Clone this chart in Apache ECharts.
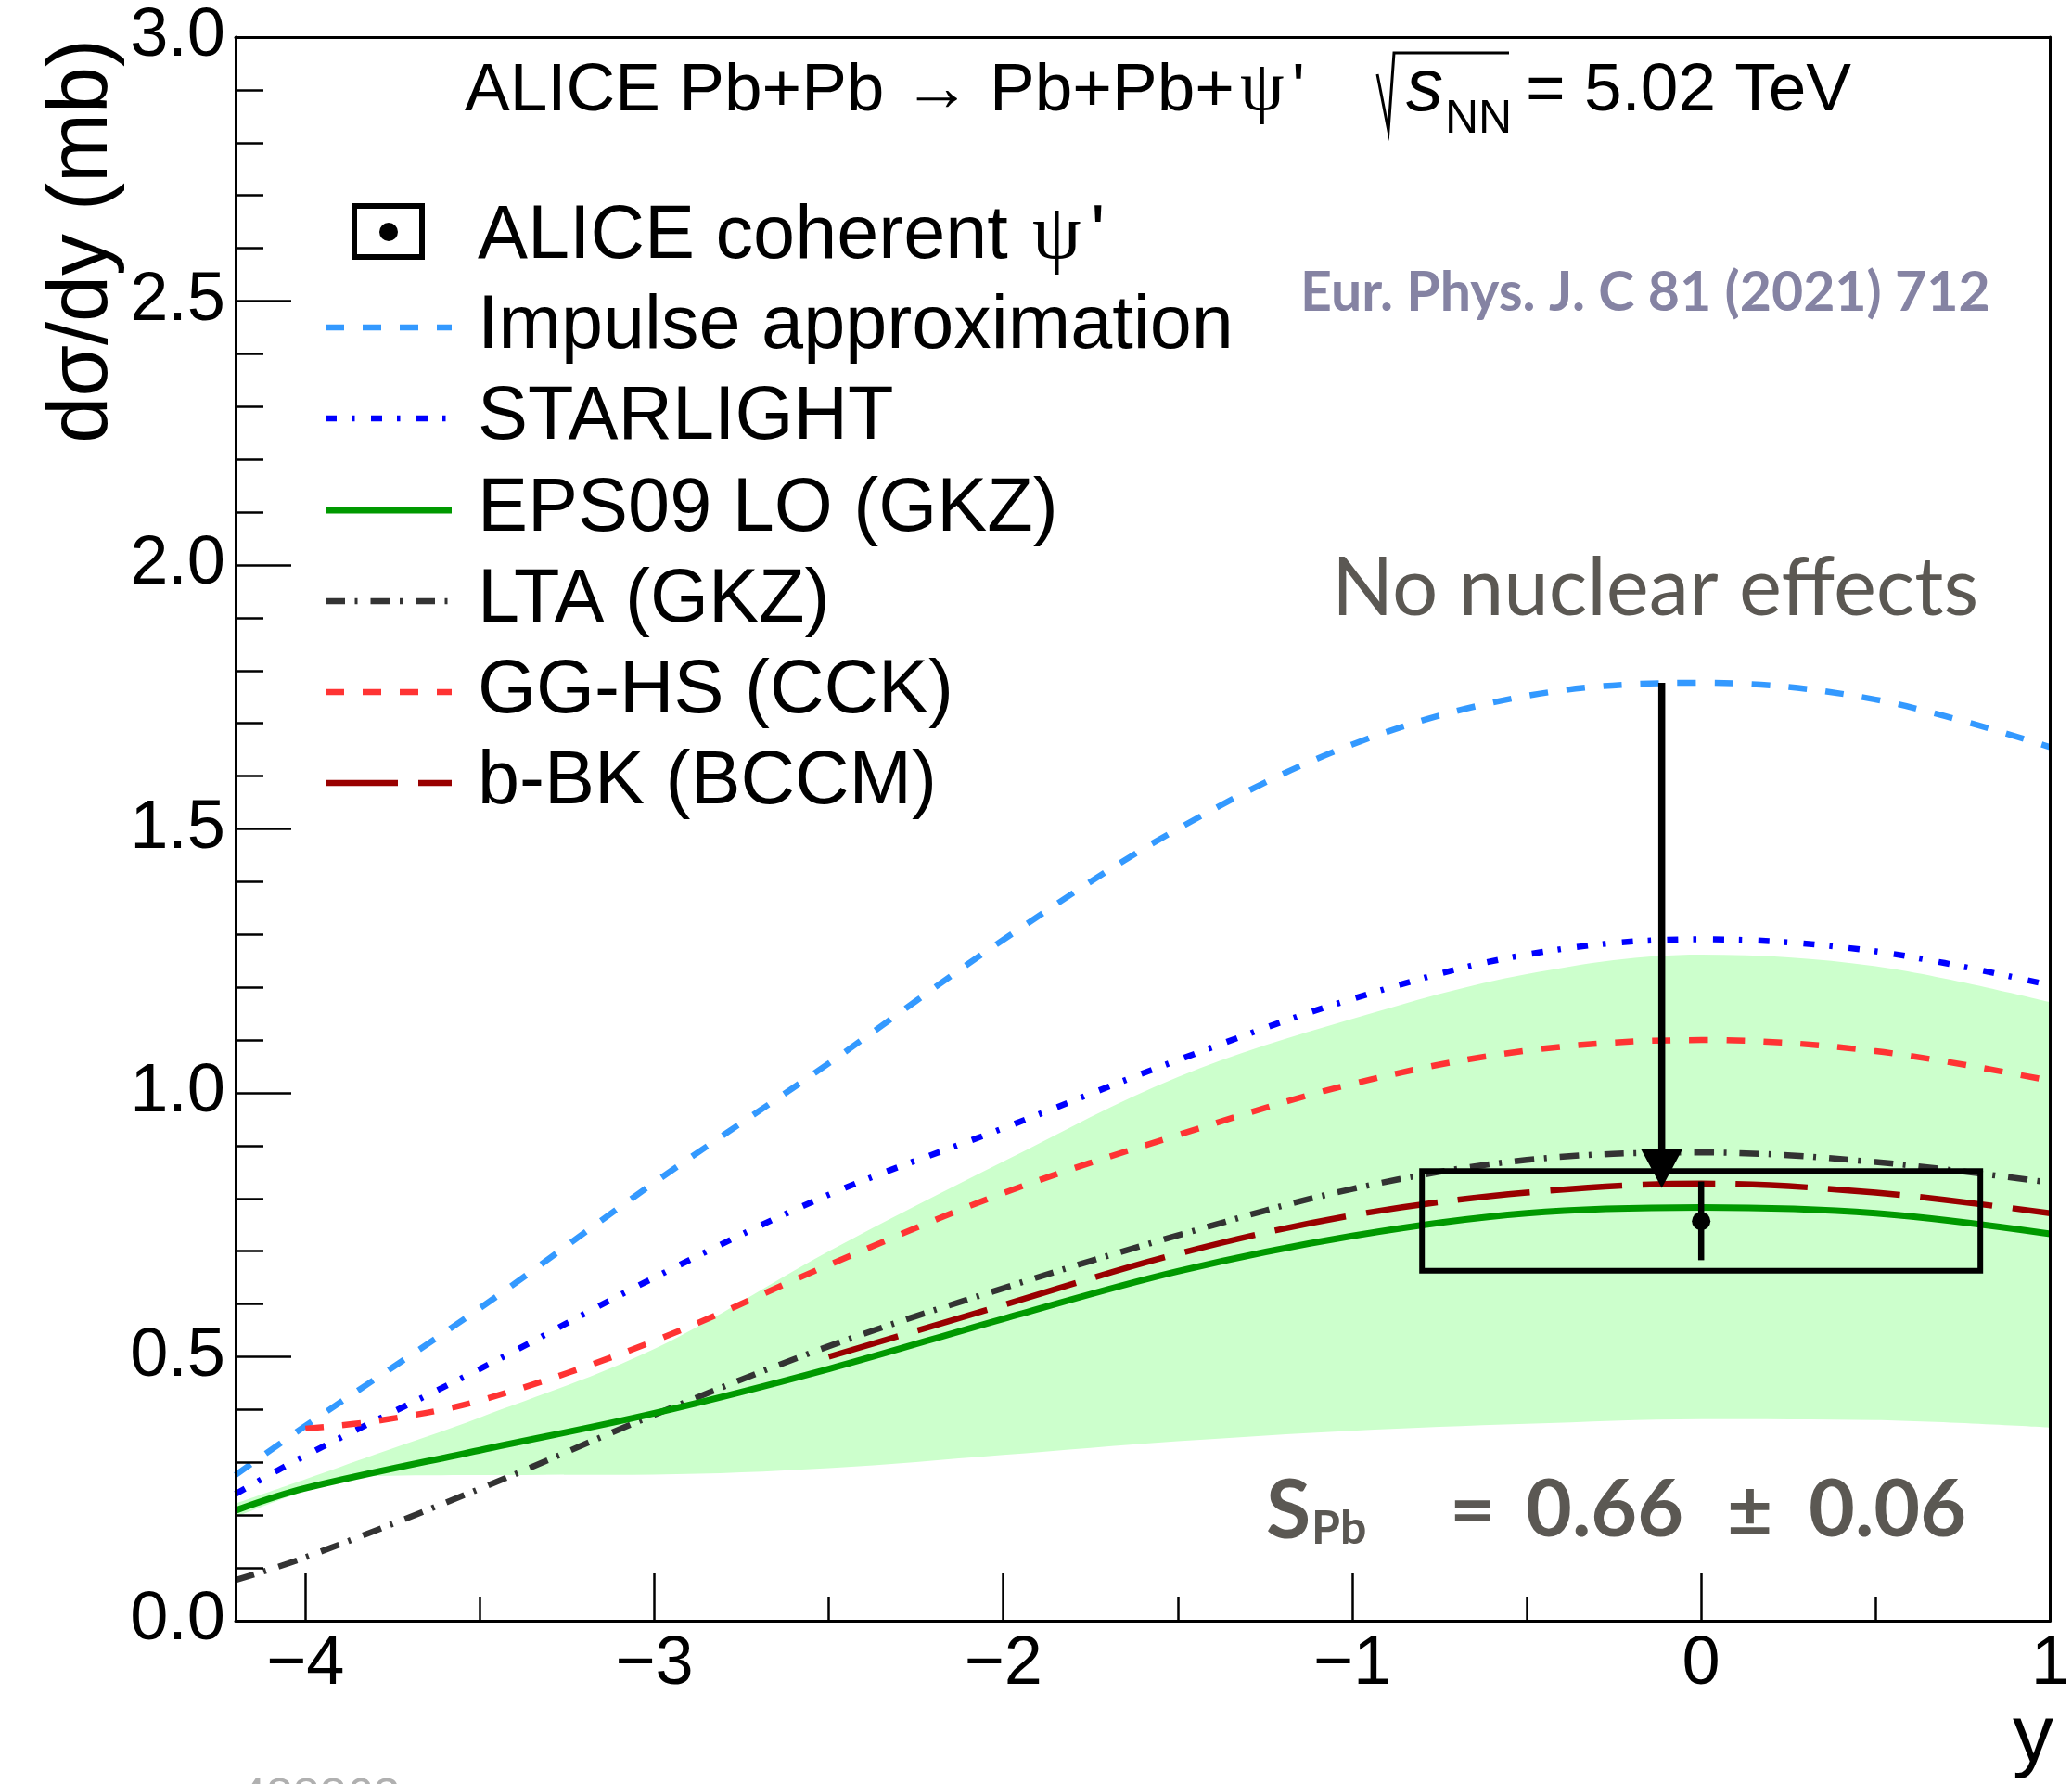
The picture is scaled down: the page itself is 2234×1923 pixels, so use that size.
<!DOCTYPE html>
<html><head><meta charset="utf-8">
<script src="https://cdn.jsdelivr.net/npm/echarts@6/dist/echarts.min.js"></script>
<style>html,body{margin:0;padding:0;background:#fff}#c{width:2234px;height:1923px}</style>
</head><body><div id="c"></div>
<script>
// ---------------- data ----------------
const rapidity   = [-4.2, -4, -3.5, -3, -2.5, -2, -1.5, -1, -0.5, 0, 0.5, 1];
const impulse    = [0.276, 0.369, 0.592, 0.83, 1.056, 1.29, 1.50, 1.66, 1.752, 1.777, 1.745, 1.655];
const starlight  = [0.24, 0.313, 0.477, 0.65, 0.807, 0.933, 1.062, 1.178, 1.262, 1.291, 1.268, 1.204];
const eps09      = [0.209, 0.251, 0.323, 0.393, 0.477, 0.572, 0.662, 0.729, 0.772, 0.783, 0.772, 0.733];
const lta        = [0.077, 0.12, 0.25, 0.39, 0.52, 0.63, 0.73, 0.818, 0.873, 0.887, 0.869, 0.83];
const ggHsX      = [-4, -3.8, -3.5, -3, -2.5, -2, -1.5, -1, -0.5, 0, 0.5, 1];
const ggHs       = [0.364, 0.378, 0.417, 0.53, 0.674, 0.81, 0.92, 1.017, 1.08, 1.10, 1.079, 1.023];
const bbkX       = [-2.5, -2, -1.5, -1, -0.5, 0, 0.5, 1];
const bbk        = [0.50, 0.598, 0.695, 0.768, 0.811, 0.828, 0.811, 0.772];
const bandX      = [-4.2, -4, -3.8, -3.5, -3, -2.5, -2, -1.5, -1, -0.5, 0, 0.5, 1];
const bandUpper  = [0.222, 0.268, 0.315, 0.385, 0.515, 0.70, 0.87, 1.03, 1.14, 1.225, 1.262, 1.24, 1.172];
const bandLower  = [0.196, 0.245, 0.274, 0.276, 0.277, 0.289, 0.314, 0.34, 0.36, 0.373, 0.382, 0.38, 0.366];
// ALICE measurement
const dataY      = [0];
const dataSigma  = [0.757];
const statLow    = [0.683];
const statHigh   = [0.832];
const systLow    = [0.663];
const systHigh   = [0.852];
const binLow     = [-0.8];
const binHigh    = [0.8];
// "No nuclear effects" arrow: [y, from, to]
const arrowPts   = [[-0.113, 1.777, 0.82]];
// ticks
const xTicks      = [-4, -3, -2, -1, 0, 1];
const xTickLabels = ['\u22124', '\u22123', '\u22122', '\u22121', '0', '1'];
const yTicks      = [0, 0.5, 1, 1.5, 2, 2.5, 3];
const yTickLabels = ['0.0', '0.5', '1.0', '1.5', '2.0', '2.5', '3.0'];
const seriesNames = ['Impulse approximation', 'STARLIGHT', 'EPS09 LO (GKZ)', 'LTA (GKZ)', 'GG-HS (CCK)', 'b-BK (BCCM)'];

// ---------------- styles ----------------
const FS = 'Liberation Sans';
const styles = [
  {color: '#3399ff', width: 6.5, dash: [20, 20]},
  {color: '#0000ff', width: 6.5, dash: [12, 16, 3.5, 17.5]},
  {color: '#009900', width: 7, dash: null},
  {color: '#333333', width: 6.5, dash: [21, 10.5, 3, 14]},
  {color: '#ff3333', width: 6.5, dash: [20, 20]},
  {color: '#990000', width: 6.5, dash: [78, 22]}
];
const zip = (xs, ys) => xs.map((x, i) => [x, ys[i]]);
const curveData = [zip(rapidity, impulse), zip(rapidity, starlight), zip(rapidity, eps09),
                   zip(rapidity, lta), zip(ggHsX, ggHs), zip(bbkX, bbk)];
const drawOrder = [0, 1, 4, 3, 5, 2];

const series = [];
series.push({type: 'line', name: 'bandUp', data: zip(bandX, bandUpper), smooth: 0.35,
  symbol: 'none', lineStyle: {width: 0, opacity: 0}, areaStyle: {color: '#ccffcc', opacity: 1}, z: 1, silent: true});
series.push({type: 'line', name: 'bandLow', data: zip(bandX, bandLower), smooth: 0.35,
  symbol: 'none', lineStyle: {width: 0, opacity: 0}, areaStyle: {color: '#ffffff', opacity: 1}, z: 1, silent: true});
drawOrder.forEach(k => {
  series.push({type: 'line', name: seriesNames[k], data: curveData[k], smooth: 0.35, symbol: 'none', z: 3,
    lineStyle: {color: styles[k].color, width: styles[k].width, type: styles[k].dash || 'solid', cap: 'butt'}});
});
series.push({type: 'custom', name: 'ALICE', z: 6,
  data: dataY.map((x, i) => [x, dataSigma[i], statLow[i], statHigh[i], systLow[i], systHigh[i], binLow[i], binHigh[i]]),
  renderItem: (params, api) => {
    const x = api.value(0), y = api.value(1);
    const p = api.coord([x, y]);
    const pLo = api.coord([x, api.value(2)]), pHi = api.coord([x, api.value(3)]);
    const b0 = api.coord([api.value(6), api.value(5)]), b1 = api.coord([api.value(7), api.value(4)]);
    return {type: 'group', children: [
      {type: 'rect', shape: {x: b0[0], y: b0[1], width: b1[0] - b0[0], height: b1[1] - b0[1]},
       style: {fill: 'none', stroke: '#000', lineWidth: 6}},
      {type: 'line', shape: {x1: pLo[0], y1: pLo[1], x2: pHi[0], y2: pHi[1]}, style: {stroke: '#000', lineWidth: 6.5}},
      {type: 'circle', shape: {cx: p[0], cy: p[1], r: 10}, style: {fill: '#000'}}
    ]};
  }});
series.push({type: 'custom', name: 'arrow', z: 7, data: arrowPts,
  renderItem: (params, api) => {
    const x = api.value(0);
    const top = api.coord([x, api.value(1)]), tip = api.coord([x, api.value(2)]);
    const hl = 42, hw = 22.5;
    return {type: 'group', children: [
      {type: 'line', shape: {x1: top[0], y1: top[1], x2: tip[0], y2: tip[1] - hl + 2}, style: {stroke: '#000', lineWidth: 7.5}},
      {type: 'polygon', shape: {points: [[tip[0] - hw, tip[1] - hl], [tip[0] + hw, tip[1] - hl], [tip[0], tip[1]]]}, style: {fill: '#000'}}
    ]};
  }});

// ---------------- text & legend ----------------
const K = {sans: 0.3465, serif: 0.3375, lato: 0.387};
const DY = 7;
function txt(x, base, s, fs, o) {
  o = o || {};
  const k = o.k || K.sans;
  const al = o.align || 'left';
  return {type: 'text', x: x, y: base - k * fs + DY, z: 100, rotation: o.rot || 0, silent: true,
    style: {text: s, fontSize: fs, fontFamily: o.ff || FS, fontWeight: o.fw || 'normal', fontStyle: o.fst || 'normal',
      fill: o.fill || '#000', align: al, textAlign: al, verticalAlign: 'middle', textVerticalAlign: 'middle'}};
}
const G = [];
// header
G.push(txt(501, 117, 'ALICE Pb+Pb \u2192 Pb+Pb+', 73));
G.push(txt(1337, 117, '\u03c8', 76, {ff: 'Liberation Serif', k: K.serif}));
G.push(txt(1393, 117, "'", 73));
G.push({type: 'polyline', z: 100, silent: true, shape: {points: [[1485, 80], [1497, 141], [1503, 57], [1627, 57]]},
  style: {stroke: '#000', lineWidth: 3, fill: 'none'}});
G.push(txt(1516, 117, 's', 80, {fst: 'italic'}));
G.push(txt(1558, 140, 'NN', 50));
G.push(txt(1645, 117, '= 5.02 TeV', 73));
// legend
const legBase = [277, 374, 472, 571, 669, 767, 865];
G.push({type: 'rect', z: 100, silent: true, shape: {x: 382, y: 222, width: 73, height: 55}, style: {fill: 'none', stroke: '#000', lineWidth: 6}});
G.push({type: 'circle', z: 100, silent: true, shape: {cx: 419, cy: 250, r: 10}, style: {fill: '#000'}});
G.push(txt(515, legBase[0], 'ALICE coherent ', 81));
G.push(txt(1113, legBase[0], '\u03c8', 84, {ff: 'Liberation Serif', k: K.serif}));
G.push(txt(1176, legBase[0], "'", 81));
for (let k = 0; k < 6; k++) {
  const yl = legBase[k + 1] - 21;
  G.push({type: 'line', z: 100, silent: true, shape: {x1: 351, y1: yl, x2: 487, y2: yl},
    style: {stroke: styles[k].color, lineWidth: styles[k].width, lineDash: styles[k].dash || null}});
  G.push(txt(515, legBase[k + 1], seriesNames[k], 81));
}
// annotations
G.push(txt(1402, 332, 'Eur. Phys. J. C 81 (2021) 712', 59, {ff: 'Lato', fw: 'bold', k: K.lato, fill: '#8583a3'}));
G.push(txt(1436, 662, 'No nuclear effects', 87, {ff: 'Lato', k: K.lato, fill: '#5b5853'}));
G.push(txt(1365, 1657, 'S', 88, {ff: 'Lato', fw: 'bold', k: K.lato, fill: '#5b5853'}));
G.push(txt(1414, 1660, 'Pb', 50, {ff: 'Lato', fw: 'bold', k: K.lato, fill: '#5b5853'}));
G.push(txt(1563, 1655, '=', 85, {ff: 'Lato', fw: 'bold', k: K.lato, fill: '#5b5853'}));
G.push(txt(1645, 1655, '0.66', 86, {ff: 'Lato', fw: 'bold', k: K.lato, fill: '#5b5853'}));
G.push(txt(1862, 1655, '\u00b1', 85, {ff: 'Lato', fw: 'bold', k: K.lato, fill: '#5b5853'}));
G.push(txt(1950, 1655, '0.06', 86, {ff: 'Lato', fw: 'bold', k: K.lato, fill: '#5b5853'}));
// axis titles
G.push({type: 'text', x: 90, y: 42, z: 100, rotation: Math.PI / 2, silent: true,
  style: {text: 'd\u03c3/dy (mb)', fontSize: 90, fontFamily: FS, fill: '#000', align: 'right', textAlign: 'right',
    verticalAlign: 'middle', textVerticalAlign: 'middle'}});
G.push(txt(2214, 1898, 'y', 88, {align: 'right'}));
G.push(txt(258, 1950, '488863', 52, {fill: '#b0b0b0'}));

const axisLine = {show: true, onZero: false, lineStyle: {color: '#000', width: 3}};
const option = {
  animation: false,
  backgroundColor: '#fff',
  grid: {left: 254, top: 40, width: 1958, height: 1707, show: false},
  xAxis: [
    {type: 'value', min: -4.2, max: 1, position: 'bottom', z: 10,
     axisLine: axisLine, splitLine: {show: false},
     axisTick: {show: true, inside: true, length: 51, lineStyle: {color: '#000', width: 2.5}},
     minorTick: {show: true, splitNumber: 2, length: 26, lineStyle: {color: '#000', width: 2.5}},
     axisLabel: {show: true, margin: 11, fontSize: 74, fontFamily: FS, color: '#000',
       formatter: v => { const i = xTicks.findIndex(t => Math.abs(t - v) < 1e-6); return i >= 0 ? xTickLabels[i] : ''; }}},
    {type: 'value', min: -4.2, max: 1, position: 'top', z: 10, axisLine: axisLine,
     axisTick: {show: false}, axisLabel: {show: false}, splitLine: {show: false}}
  ],
  yAxis: [
    {type: 'value', min: 0, max: 3, interval: 0.5, position: 'left', z: 10,
     axisLine: axisLine, splitLine: {show: false},
     axisTick: {show: true, inside: true, length: 60, lineStyle: {color: '#000', width: 2.5}},
     minorTick: {show: true, splitNumber: 5, length: 30, lineStyle: {color: '#000', width: 2.5}},
     axisLabel: {show: true, margin: 11, fontSize: 74, fontFamily: FS, color: '#000',
       formatter: v => { const i = yTicks.findIndex(t => Math.abs(t - v) < 1e-6); return i >= 0 ? yTickLabels[i] : ''; }}},
    {type: 'value', min: 0, max: 3, interval: 0.5, position: 'right', z: 10, axisLine: axisLine,
     axisTick: {show: false}, axisLabel: {show: false}, splitLine: {show: false}}
  ],
  series: series,
  graphic: {elements: G}
};
const chart = echarts.init(document.getElementById('c'), null, {renderer: 'canvas'});
chart.setOption(option);
</script></body></html>
